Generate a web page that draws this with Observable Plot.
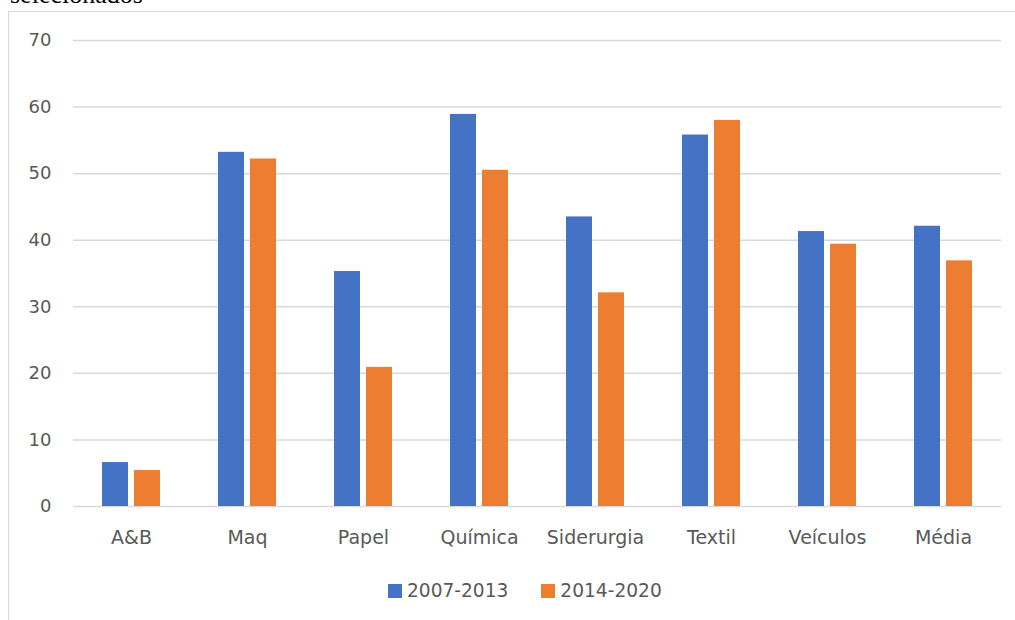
<!DOCTYPE html>
<html>
<head>
<meta charset="utf-8">
<script src="https://cdn.jsdelivr.net/npm/d3@7"></script>
<script src="https://cdn.jsdelivr.net/npm/@observablehq/plot@0.6"></script>
<style>
  html, body { margin: 0; padding: 0; background: #fff; overflow: hidden; }
  #page { position: relative; width: 1015px; height: 620px; overflow: hidden; background: #fff; }
  #title { position: absolute; left: 10px; top: -18px; font-family: "Liberation Serif", "Times New Roman", serif; font-size: 26px; line-height: 1; color: #000; white-space: nowrap; }
  #frame { position: absolute; left: 8px; top: 11px; width: 1030px; height: 700px; border: 1.5px solid #d9d9d9; box-sizing: border-box; }
  #chart { position: absolute; left: 0; top: 0; }
  #legend { position: absolute; left: 388px; top: 580px; display: flex; align-items: center; font-family: "DejaVu Sans", sans-serif; font-size: 18.6px; color: #595959; }
  .item { display: flex; align-items: center; margin-right: 33px; }
  .sw { width: 14px; height: 14px; margin-right: 5px; }
</style>
</head>
<body>
<div id="page">
  <div id="title">selecionados</div>
  <div id="frame"></div>
  <div id="chart"></div>
  <div id="legend"></div>
</div>
<script>
// Sectors and the two period averages
const categories = ["A&B", "Maq", "Papel", "Química", "Siderurgia", "Textil", "Veículos", "Média"];
const periods = ["2007-2013", "2014-2020"];
const values2007_2013 = [6.6, 53.2, 35.3, 58.9, 43.5, 55.8, 41.3, 42.1];
const values2014_2020 = [5.4, 52.2, 20.9, 50.5, 32.1, 58.0, 39.4, 36.9];
const yTicks = [0, 10, 20, 30, 40, 50, 60, 70];
const colors = ["#4472C4", "#ED7D31"];

// Long-format table for grouped bars
const rows = [];
categories.forEach((c, i) => {
  rows.push({category: c, period: periods[0], value: values2007_2013[i]});
  rows.push({category: c, period: periods[1], value: values2014_2020[i]});
});

const chart = Plot.plot({
  width: 1015,
  height: 560,
  marginTop: 40,
  marginBottom: 54,
  marginLeft: 72,
  marginRight: 13,
  style: {fontFamily: "'DejaVu Sans', sans-serif", fontSize: "18px", color: "#595959", background: "transparent", overflow: "visible"},
  fx: {domain: categories, padding: 0, label: null, tickSize: 0, tickPadding: 24, axis: "bottom"},
  x: {domain: periods, paddingInner: 0.2, paddingOuter: 0.86, axis: null},
  y: {domain: [0, 70], ticks: yTicks, tickSize: 0, tickPadding: 22, label: null},
  color: {domain: periods, range: colors},
  marks: [
    Plot.ruleY(yTicks, {stroke: "#d9d9d9", strokeWidth: 1.5}),
    Plot.barY(rows, {fx: "category", x: "period", y: "value", fill: "period"})
  ]
});
document.getElementById("chart").appendChild(chart);

// Slightly larger category labels
d3.select(chart).selectAll("[aria-label^='fx-axis'] text").style("font-size", "19px");

// Legend
const legend = d3.select("#legend");
periods.forEach((p, i) => {
  const item = legend.append("div").attr("class", "item");
  item.append("div").attr("class", "sw").style("background", colors[i]);
  item.append("span").text(p);
});
</script>
</body>
</html>
